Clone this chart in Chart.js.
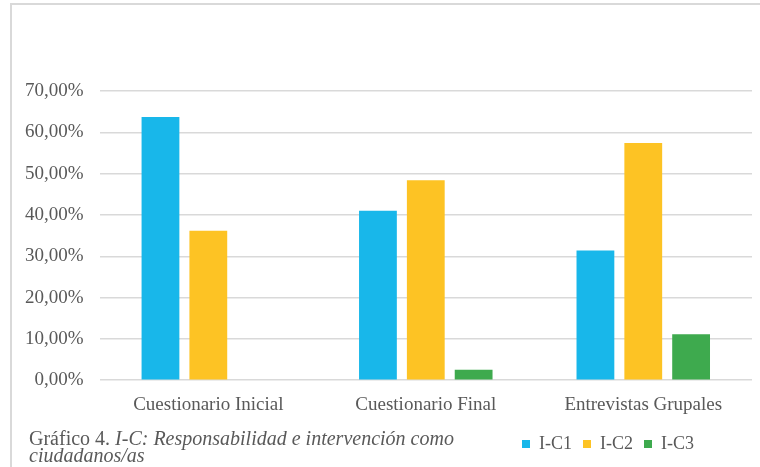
<!DOCTYPE html>
<html>
<head>
<meta charset="utf-8">
<script src="https://cdn.jsdelivr.net/npm/chart.js@4"></script>
<style>
  html, body { margin: 0; padding: 0; background: #fff; }
  #wrap { position: relative; width: 760px; height: 467px; overflow: hidden; }
  #frame { position: absolute; left: 10px; top: 3px; width: 800px; height: 500px;
           border-left: 2px solid #d9d9d9; border-top: 2px solid #d9d9d9; }
  #caption { position: absolute; left: 29px; top: 430px; white-space: nowrap;
             font: 20px "Liberation Serif", "DejaVu Serif", serif; color: #595959; line-height: 17px; }
</style>
</head>
<body>
<div id="wrap">
  <div id="frame"></div>
  <canvas id="chart" width="760" height="467"></canvas>
  <div id="caption">Gráfico 4. <i>I-C: Responsabilidad e intervención como<br>ciudadanos/as</i></div>
</div>
<script>
const categories = ['Cuestionario Inicial', 'Cuestionario Final', 'Entrevistas Grupales'];
const seriesNames = ['I-C1', 'I-C2', 'I-C3'];
const ic1 = [63.7, 41.0, 31.4];
const ic2 = [36.2, 48.4, 57.4];
const ic3 = [0, 2.5, 11.1];
const colors = ['#18b7ea', '#fdc324', '#3eaa4e'];

const serif = '"Liberation Serif", "DejaVu Serif", serif';
const legendShift = 47; // legend sits left of the plot's right edge

const legendOffset = {
    id: 'legendOffset',
    afterLayout(chart) {
        chart.legend.right -= legendShift;
    }
};

new Chart(document.getElementById('chart'), {
    type: 'bar',
    data: {
        labels: categories,
        datasets: [ic1, ic2, ic3].map((vals, i) => ({
            label: seriesNames[i],
            data: vals,
            backgroundColor: colors[i],
            categoryPercentage: 0.66,
            barPercentage: 0.79
        }))
    },
    options: {
        responsive: false,
        animation: false,
        layout: { padding: { left: 9, right: 8, top: 91, bottom: 4 } },
        plugins: {
            tooltip: { enabled: false },
            legend: {
                position: 'bottom',
                align: 'end',
                labels: {
                    boxWidth: 8,
                    boxHeight: 8,
                    padding: 11,
                    color: '#595959',
                    font: { family: serif, size: 18 }
                }
            }
        },
        scales: {
            x: {
                grid: { display: false },
                border: { display: false },
                ticks: { color: '#595959', padding: 5, font: { family: serif, size: 19 } },
                afterFit: axis => { axis.height += 3; }
            },
            y: {
                min: 0,
                max: 70,
                border: { display: false },
                grid: { color: '#d9d9d9', lineWidth: 1.5, drawTicks: false },
                ticks: {
                    stepSize: 10,
                    padding: 16,
                    color: '#595959',
                    font: { family: serif, size: 19 },
                    callback: v => v.toFixed(2).replace('.', ',') + '%'
                }
            }
        }
    },
    plugins: [legendOffset]
});
</script>
</body>
</html>
